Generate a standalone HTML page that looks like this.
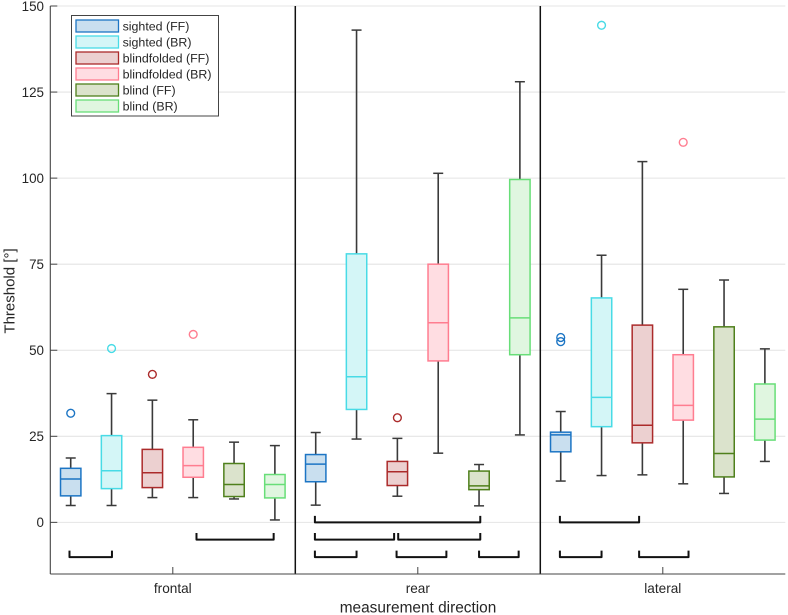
<!DOCTYPE html>
<html lang="en">
<head>
<meta charset="utf-8">
<title>Threshold by measurement direction</title>
<style>
html,body{margin:0;padding:0;background:#fff;}
svg{display:block;}
text{font-family:"Liberation Sans",Arial,sans-serif;fill:#262626;}
</style>
</head>
<body>
<svg id="chart" xmlns="http://www.w3.org/2000/svg" width="788" height="615" viewBox="0 0 788 615">
  <g id="grid"></g>
  <g id="axes"></g>
  <g id="marks"></g>
  <g id="brackets"></g>
  <g id="legend"></g>
  <text transform="translate(14.5 291) rotate(-90)" text-anchor="middle" font-size="15">Threshold [°]</text>
  <text x="418" y="612.5" text-anchor="middle" font-size="15.4">measurement direction</text>
</svg>
<script>
const categories = ['frontal', 'rear', 'lateral'];
const groups = ['sighted (FF)', 'sighted (BR)', 'blindfolded (FF)', 'blindfolded (BR)', 'blind (FF)', 'blind (BR)'];
const yTicks = [0, 25, 50, 75, 100, 125, 150];

const whiskerHigh = [18.7, 37.4, 35.5, 29.8, 23.3, 22.3,  26.1, 143, 24.4, 101.4, 16.8, 128,  32.2, 77.6, 104.8, 67.7, 70.4, 50.4];
const q3Values    = [15.7, 25.2, 21.2, 21.8, 17.1, 13.9,  19.7, 78, 17.7, 75, 14.9, 99.6,  26.2, 65.2, 57.3, 48.7, 56.8, 40.2];
const medians     = [12.6, 15, 14.4, 16.5, 11, 11,  16.9, 42.3, 14.7, 58, 10.6, 59.4,  25.4, 36.3, 28.2, 34, 20, 30];
const q1Values    = [7.7, 9.8, 10.1, 13.1, 7.5, 7.1,  11.8, 32.8, 10.7, 46.9, 9.5, 48.7,  20.5, 27.8, 23.1, 29.7, 13.2, 23.9];
const whiskerLow  = [4.9, 4.9, 7.2, 7.2, 6.8, 0.7,  5, 24.2, 7.6, 20.1, 4.8, 25.4,  12, 13.6, 13.8, 11.2, 8.4, 17.7];

const outlierBox    = [0, 1, 2, 3, 8, 12, 12, 13, 15];
const outlierValues = [31.7, 50.5, 43, 54.6, 30.4, 52.5, 53.7, 144.4, 110.4];

const bracketStart = [-0.03, 3.08, 5.98, 5.98, 8.02, 5.98, 7.98, 10.0, 11.98, 11.98, 13.92];
const bracketEnd   = [1.01, 4.97, 10.03, 7.92, 10.03, 7.0, 9.2, 10.97, 13.92, 13.0, 15.13];
const bracketLevel = [-10.1, -5, 0, -5, -5, -10.1, -10.1, -10.1, 0, -10.1, -10.1];
const bracketRise  = [1.9, 1.9, 1.9, 1.9, 1.9, 1.9, 1.9, 1.9, 1.9, 1.9, 1.9];

const strokeColors = ['#1c75c4', '#48dbe6', '#ab2b2b', '#ff7d90', '#4f801c', '#68de78'];
const fillColors = ['#c9dfef', '#d4f6f7', '#ecd0d0', '#ffdde2', '#dbe3cc', '#e0f6e0'];

const NS = 'http://www.w3.org/2000/svg';
const axisLeft = 50.3, axisRight = 785.3, axisBottom = 574, axisTop = 6;
const yMin = -15, yMax = 150;
const slots = categories.length * groups.length;
const slotWidth = (axisRight - axisLeft) / slots;

function xPos(i) { return axisLeft + (i + 0.5) * slotWidth - 0.0; }
function yPos(v) { return axisBottom - (v - yMin) / (yMax - yMin) * (axisBottom - axisTop); }
function make(tag, parent, props) {
  const n = document.createElementNS(NS, tag);
  for (const k in props) n.setAttribute(k, props[k]);
  parent.appendChild(n);
  return n;
}

const gridG = document.getElementById('grid');
const axesG = document.getElementById('axes');
const marksG = document.getElementById('marks');
const bracketsG = document.getElementById('brackets');
const legendG = document.getElementById('legend');

yTicks.forEach(function (t) {
  const g = make('line', gridG, {x1: axisLeft, x2: axisRight, y1: yPos(t), y2: yPos(t), stroke: '#e4e4e4', 'stroke-width': 1.1});
  
  
  const tick = make('line', axesG, {x1: axisLeft, x2: axisLeft + 7, y1: yPos(t), y2: yPos(t), stroke: '#444', 'stroke-width': 1});
  
  
  const lab = make('text', axesG, {x: 44, y: yPos(t) + 4.8, 'text-anchor': 'end', 'font-size': 13.4});
  
  
  lab.textContent = t;
});

categories.forEach(function (c, i) {
  const cx = axisLeft + (i + 0.5) * groups.length * slotWidth;
  const tick = make('line', axesG, {x1: cx, x2: cx, y1: axisBottom, y2: axisBottom - 7, stroke: '#444', 'stroke-width': 1});
  
  
  const lab = make('text', axesG, {x: cx, y: 593, 'text-anchor': 'middle', 'font-size': 13.6});
  
  
  lab.textContent = c;
  if (i > 0) {
    const dx = axisLeft + i * groups.length * slotWidth;
    const d = make('line', axesG, {x1: dx, x2: dx, y1: axisTop, y2: axisBottom, stroke: '#111', 'stroke-width': 1.5});
    
    
  }
});

const yAxisLine = make('line', axesG, {x1: axisLeft, x2: axisLeft, y1: axisTop, y2: axisBottom, stroke: '#444', 'stroke-width': 1.1});


const xAxisLine = make('line', axesG, {x1: axisLeft, x2: axisRight, y1: axisBottom, y2: axisBottom, stroke: '#444', 'stroke-width': 1.1});



medians.forEach(function (m, i) {
  const gi = i % groups.length;
  const cx = xPos(i);
  const box = make('g', marksG, {});
  
  
  make('line', box, {x1: cx, x2: cx, y1: yPos(whiskerHigh[i]), y2: yPos(q3Values[i]), stroke: '#3a3a3a', 'stroke-width': 1.6});
  make('line', box, {x1: cx, x2: cx, y1: yPos(q1Values[i]), y2: yPos(whiskerLow[i]), stroke: '#3a3a3a', 'stroke-width': 1.6});
  make('line', box, {x1: cx - 5, x2: cx + 5, y1: yPos(whiskerHigh[i]), y2: yPos(whiskerHigh[i]), stroke: '#3a3a3a', 'stroke-width': 1.5});
  make('line', box, {x1: cx - 5, x2: cx + 5, y1: yPos(whiskerLow[i]), y2: yPos(whiskerLow[i]), stroke: '#3a3a3a', 'stroke-width': 1.5});
  make('rect', box, {x: cx - 10.2, width: 20.4, y: yPos(q3Values[i]), height: yPos(q1Values[i]) - yPos(q3Values[i]), fill: fillColors[gi], stroke: strokeColors[gi], 'stroke-width': 1.5});
  make('line', box, {x1: cx - 10.2, x2: cx + 10.2, y1: yPos(m), y2: yPos(m), stroke: strokeColors[gi], 'stroke-width': 1.5});
});

outlierValues.forEach(function (v, k) {
  const b = outlierBox[k];
  const o = make('circle', marksG, {cx: xPos(b), cy: yPos(v), r: 3.9, fill: 'none', stroke: strokeColors[b % groups.length], 'stroke-width': 1.4});
  
  
});

bracketLevel.forEach(function (lv, k) {
  const x1 = xPos(bracketStart[k]), x2 = xPos(bracketEnd[k]);
  const yb = yPos(lv), yt = yPos(lv + bracketRise[k]);
  const p = make('path', bracketsG, {d: 'M' + x1 + ' ' + yt + 'V' + yb + 'H' + x2 + 'V' + yt, fill: 'none', stroke: '#111', 'stroke-width': 2, 'stroke-linejoin': 'round'});
  
  
});

const legendBox = make('rect', legendG, {x: 71.5, y: 15.5, width: 147, height: 100.5, fill: '#fff', stroke: '#444', 'stroke-width': 1});


groups.forEach(function (g, i) {
  const cy = 26 + i * 16;
  const entry = make('g', legendG, {});
  
  
  make('rect', entry, {x: 76, y: cy - 6, width: 42.5, height: 12, fill: fillColors[i], stroke: strokeColors[i], 'stroke-width': 1.3});
  const t = make('text', entry, {x: 122.6, y: cy + 4.4, 'font-size': 12.4});
  t.textContent = g;
});
</script>
</body>
</html>
